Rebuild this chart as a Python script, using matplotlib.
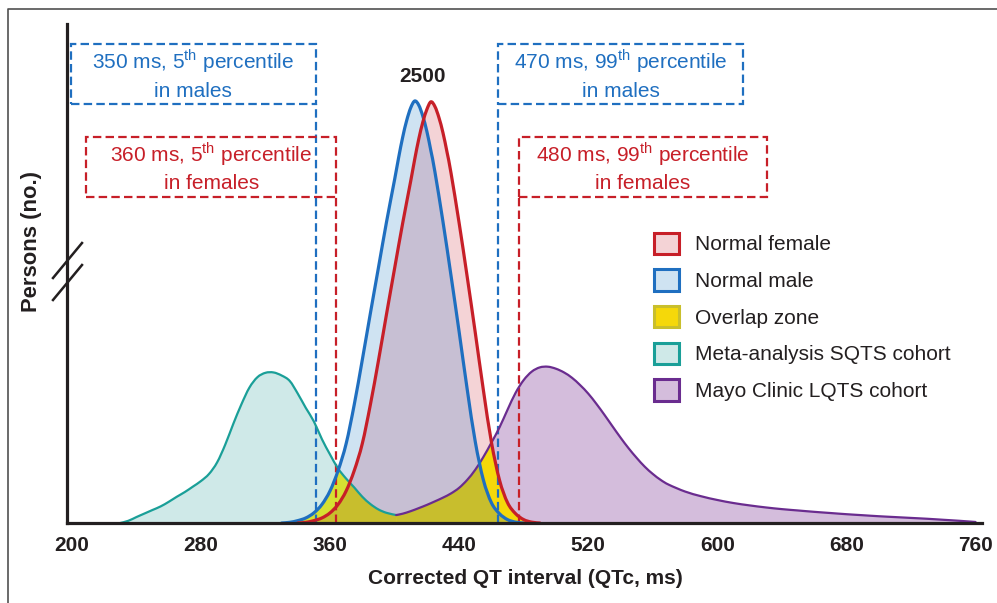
import numpy as np
import matplotlib
matplotlib.use('Agg')
import matplotlib.pyplot as plt
from matplotlib.patches import Patch, Rectangle, PathPatch
from matplotlib.path import Path
from matplotlib.lines import Line2D

plt.rcParams['font.family'] = ['Liberation Sans', 'DejaVu Sans']
plt.rcParams['mathtext.fontset'] = 'custom'
plt.rcParams['mathtext.rm'] = 'Liberation Sans'

# values: QTc (ms) and persons (no.)
male_x = [330, 335, 340, 345, 350, 355, 360, 365, 370, 375, 380, 385, 390, 395, 400,
          402.5, 405, 407.5, 410, 412.5, 415, 417.5, 420, 422.5, 425, 430, 435, 440,
          445, 450, 455, 460, 465, 470, 475, 480]
male_y = [0, 4, 14, 30, 60, 110, 190, 310, 470, 700, 965, 1240, 1510, 1780, 2030,
          2160, 2280, 2380, 2455, 2495, 2470, 2405, 2315, 2200, 2075, 1780, 1460, 1130,
          790, 480, 255, 120, 55, 20, 5, 0]

female_x = [340, 345, 350, 355, 360, 365, 370, 375, 380, 385, 390, 395, 400, 405, 410,
            412.5, 415, 417.5, 420, 422.5, 425, 427.5, 430, 432.5, 435, 440, 445, 450,
            455, 460, 465, 470, 475, 480, 485, 490]
female_y = [0, 4, 14, 30, 60, 110, 190, 310, 470, 700, 960, 1235, 1505, 1772, 2022,
            2152, 2271, 2370, 2445, 2490, 2462, 2396, 2306, 2192, 2067, 1773, 1455, 1125,
            787, 478, 254, 120, 55, 20, 5, 0]

sqts_x = [230, 235, 240, 245, 250, 255, 260, 265, 270, 275, 280, 285, 290, 295, 300,
          305, 310, 315, 320, 325, 330, 335, 340, 345, 350, 355, 360, 365, 370, 375,
          380, 385, 390, 395, 401]
sqts_y = [0, 13, 35, 56, 77, 98, 125, 155, 183, 215, 248, 290, 358, 462, 585,
          700, 800, 862, 888, 890, 872, 840, 765, 680, 600, 495, 405, 322, 262, 210,
          155, 112, 80, 60, 47]

lqts_x = [401, 405, 410, 415, 420, 425, 430, 435, 440, 445, 450, 455, 460, 465, 470,
          475, 480, 485, 490, 495, 500, 505, 510, 515, 520, 525, 530, 535, 540, 545,
          550, 555, 560, 565, 570, 580, 590, 600, 610, 620, 630, 640, 650, 660, 670,
          680, 690, 700, 710, 720, 730, 740, 750, 760]
lqts_y = [47, 55, 70, 88, 107, 128, 150, 175, 208, 255, 315, 390, 475, 565, 670,
          770, 845, 895, 920, 924, 912, 890, 858, 815, 765, 705, 640, 572, 505, 442,
          385, 333, 290, 254, 226, 186, 158, 136, 118, 104, 92, 82, 74, 66, 59,
          52, 46, 40, 35, 30, 25, 19, 13, 6]

cut_x = [351, 364, 464, 477]
cut_text = ['350 ms, 5$^{\\rm th}$ percentile\nin males',
            '360 ms, 5$^{\\rm th}$ percentile\nin females',
            '470 ms, 99$^{\\rm th}$ percentile\nin males',
            '480 ms, 99$^{\\rm th}$ percentile\nin females']
xticks = [200, 280, 360, 440, 520, 600, 680, 760]
legend_labels = ['Normal female', 'Normal male', 'Overlap zone',
                 'Meta-analysis SQTS cohort', 'Mayo Clinic LQTS cohort']
peak_label = '2500'

# colours
blue, red, teal, purple = '#1f6fc0', '#c71f28', '#1a9f98', '#6a2c8f'
blue_f, red_f, teal_f, purple_f = '#cfe3f2', '#f4d3d6', '#cfe9e8', '#d4bddc'
both_f = '#c7bfd3'
olive, yel, yelgr = '#c8be2d', '#f5d80a', '#d6e032'
ink = '#231f20'

fig = plt.figure(figsize=(9.97, 6.03), dpi=100)
ax = fig.add_axes([67/997, 80/603, 915/997, 499/603])
ax.set_xlim(197, 764)
ax.set_ylim(0, 2950)


def smooth(x, y, base=False):
    # cubic bezier through the read points (catmull-rom tangents)
    p = np.column_stack([x, y]).astype(float)
    q = np.vstack([p[0], p, p[-1]])
    verts, codes = [p[0]], [Path.MOVETO]
    for i in range(1, len(q) - 2):
        verts += [q[i] + (q[i+1] - q[i-1]) / 6, q[i+1] - (q[i+2] - q[i]) / 6, q[i+1]]
        codes += [Path.CURVE4] * 3
    if base:
        verts += [(x[-1], 0), (x[0], 0), (x[0], 0)]
        codes += [Path.LINETO, Path.LINETO, Path.CLOSEPOLY]
    return Path(verts, codes)


def area(x, y, color, z, clip=None):
    patch = ax.add_patch(PathPatch(smooth(x, y, base=True), fc=color, lw=0, zorder=z))
    if clip is not None:
        patch.set_clip_path(clip)
    return patch


area(sqts_x, sqts_y, teal_f, 1)
area(lqts_x, lqts_y, purple_f, 1)
m_patch = area(male_x, male_y, blue_f, 2)
f_patch = area(female_x, female_y, red_f, 2)
area(female_x, female_y, both_f, 3, clip=m_patch)

# under both normal curves: female on the left of the crossing, male on the right
keep_f = [i for i, v in enumerate(female_x) if v <= 417.5]
keep_m = [i for i, v in enumerate(male_x) if v > 417.5]
bx = [female_x[i] for i in keep_f] + [male_x[i] for i in keep_m]
by = [female_y[i] for i in keep_f] + [male_y[i] for i in keep_m]
both_patch = ax.add_patch(PathPatch(smooth(bx, by, base=True), fc='none', lw=0))

for cx, cy in [(sqts_x, sqts_y), (lqts_x, lqts_y)]:
    area(cx, cy, yelgr, 4, clip=m_patch)
    area(cx, cy, yel, 5, clip=f_patch)
    area(cx, cy, olive, 6, clip=both_patch)

# dashed percentile boxes
dash = (0, (3.8, 1.9))
box_w = [151.5, 155, 152, 154]
for i, (cx, txt) in enumerate(zip(cut_x, cut_text)):
    col = blue if i % 2 == 0 else red
    y0 = 2476 if i % 2 == 0 else 1927
    x0 = cx - box_w[i] if i < 2 else cx
    ax.add_patch(Rectangle((x0, y0), box_w[i], 357, fill=False, ec=col, lw=1.6,
                           ls=dash, zorder=7))
    ax.plot([cx, cx], [0, y0], color=col, lw=1.6, ls=dash, zorder=7)
    ax.text(x0 + box_w[i] / 2, y0 + 180, txt, color=col, fontsize=15, ha='center',
            va='center', linespacing=1.45, zorder=8)

for cx, cy, col, w, z in [(sqts_x, sqts_y, teal, 1.6, 8), (lqts_x, lqts_y, purple, 1.6, 8),
                          (male_x, male_y, blue, 2.3, 9), (female_x, female_y, red, 2.3, 9)]:
    ax.add_patch(PathPatch(smooth(cx, cy), fill=False, ec=col, lw=w, zorder=z,
                           capstyle='round', joinstyle='round'))

ax.text(417, 2642, peak_label, fontsize=15, fontweight='bold', color=ink,
        ha='center', va='center')

# axes styling
for s in ['top', 'right']:
    ax.spines[s].set_visible(False)
for s in ['left', 'bottom']:
    ax.spines[s].set_linewidth(2.3)
    ax.spines[s].set_color(ink)
    ax.spines[s].set_zorder(20)
ax.set_yticks([])
ax.set_xticks(xticks)
ax.tick_params(axis='x', length=0, pad=9.4, labelsize=15, labelcolor=ink)
for lbl in ax.get_xticklabels():
    lbl.set_fontweight('bold')
ax.set_xlabel('Corrected QT interval (QTc, ms)', fontsize=15, fontweight='bold', color=ink)
ax.xaxis.set_label_coords(0.5005, -0.112)
ax.xaxis.label.set_va('center')
ax.set_ylabel('Persons (no.)', fontsize=15.8, fontweight='bold', color=ink)
ax.yaxis.set_label_coords(-0.039, 0.565)
ax.yaxis.label.set_va('center')

# axis break marks
for off in [0, 22]:
    ax.add_line(Line2D([(53 - 67) / 915, (82 - 67) / 915],
                       [(523 - 278 - off) / 499, (523 - 243 - off) / 499],
                       transform=ax.transAxes, color=ink, lw=1.8, clip_on=False, zorder=21))

# legend
handles = [Patch(fc=red_f, ec=red, lw=2.2), Patch(fc=blue_f, ec=blue, lw=2.2),
           Patch(fc=yel, ec='#c9bf2c', lw=2.2), Patch(fc=teal_f, ec=teal, lw=2.2),
           Patch(fc=purple_f, ec=purple, lw=2.2)]
leg = ax.legend(handles, legend_labels, loc='upper left',
                bbox_to_anchor=((654 - 67) / 915, (523 - 232.5) / 499),
                frameon=False, fontsize=15, handlelength=1.2, handleheight=1.2,
                labelspacing=0.72, handletextpad=0.77, borderpad=0, borderaxespad=0)
for t in leg.get_texts():
    t.set_color(ink)

# outer frame, cut at right and bottom like the source
fig.add_artist(Line2D([8/997, 8/997, 1.01], [-0.01, 1 - 9/603, 1 - 9/603],
                      transform=fig.transFigure, color='#505050', lw=1.2))

fig.savefig('out.png', dpi=100)
